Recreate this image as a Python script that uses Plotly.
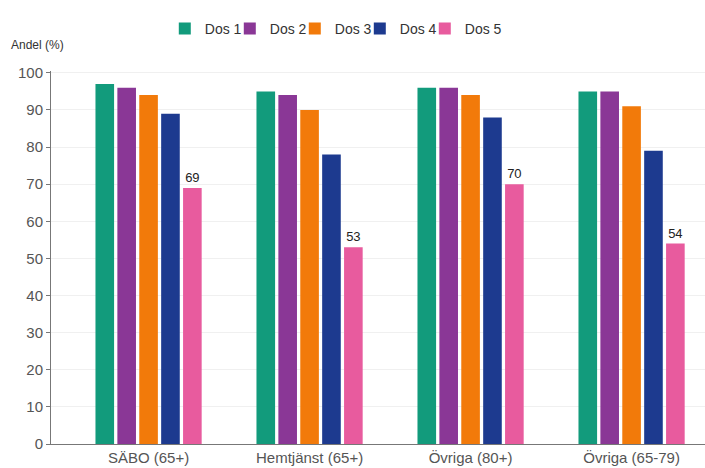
import plotly.graph_objects as go

categories = ["SÄBO (65+)", "Hemtjänst (65+)", "Övriga (80+)", "Övriga (65-79)"]
series_names = ["Dos 1", "Dos 2", "Dos 3", "Dos 4", "Dos 5"]
dos1 = [97, 95, 96, 95]
dos2 = [96, 94, 96, 95]
dos3 = [94, 90, 94, 91]
dos4 = [89, 78, 88, 79]
dos5 = [69, 53, 70, 54]
y_ticks = [0, 10, 20, 30, 40, 50, 60, 70, 80, 90, 100]

colors = ["#129b7c", "#8a3796", "#f27a0a", "#1d3a8f", "#e85b9e"]
values = [dos1, dos2, dos3, dos4, dos5]

fig = go.Figure()
for i, (name, vals) in enumerate(zip(series_names, values)):
    kw = {}
    if name == "Dos 5":
        kw = dict(text=[str(v) for v in vals], textposition="outside",
                  textfont=dict(size=13, color="#222"), cliponaxis=False)
    fig.add_trace(go.Bar(name=name, x=categories, y=vals,
                         marker=dict(color=colors[i], line=dict(width=0)),
                         hoverinfo="x+y", **kw))

# invisible spacer entry so the last legend label is not clipped
fig.add_trace(go.Scatter(x=[None], y=[None], mode="markers", name="\u00a0",
                         marker=dict(color="rgba(0,0,0,0)", size=1,
                                     line=dict(width=0, color="rgba(0,0,0,0)")),
                         hoverinfo="skip", showlegend=True))

fig.update_layout(
    width=705, height=468,
    barmode="group", bargap=0.32, bargroupgap=0.15,
    plot_bgcolor="white", paper_bgcolor="white",
    font=dict(family="Liberation Sans, Arial, sans-serif", size=14, color="#555"),
    margin=dict(l=51, r=0, t=71, b=24, autoexpand=False),
    showlegend=True,
    legend=dict(orientation="h", x=0.174, xanchor="left", y=1.07, yanchor="bottom",
                font=dict(size=14, color="#333"), itemwidth=30,
                entrywidth=20, entrywidthmode="pixels",
                traceorder="normal", bgcolor="rgba(0,0,0,0)"),
    annotations=[dict(text="Andel (%)", xref="paper", yref="paper", x=-0.064, y=1.045,
                      xanchor="left", yanchor="bottom", showarrow=False,
                      font=dict(size=12, color="#333"))],
    uniformtext=dict(minsize=12, mode="show"),
)
fig.update_xaxes(range=[-0.606, 3.456], showline=True, linecolor="#777", linewidth=1,
                 showgrid=False,
                 tickfont=dict(size=15, color="#555"), ticks="")
fig.update_yaxes(range=[0, 100.5], tickvals=y_ticks, showline=True, linecolor="#777",
                 linewidth=1, ticks="outside", ticklen=4, tickcolor="#777",
                 showgrid=True, gridcolor="#f0f0f0", zeroline=False,
                 tickfont=dict(size=15, color="#555"))

fig.write_html("out.html", config={"displayModeBar": False},
               post_script="document.body.style.margin='0';document.body.style.overflow='hidden';")
